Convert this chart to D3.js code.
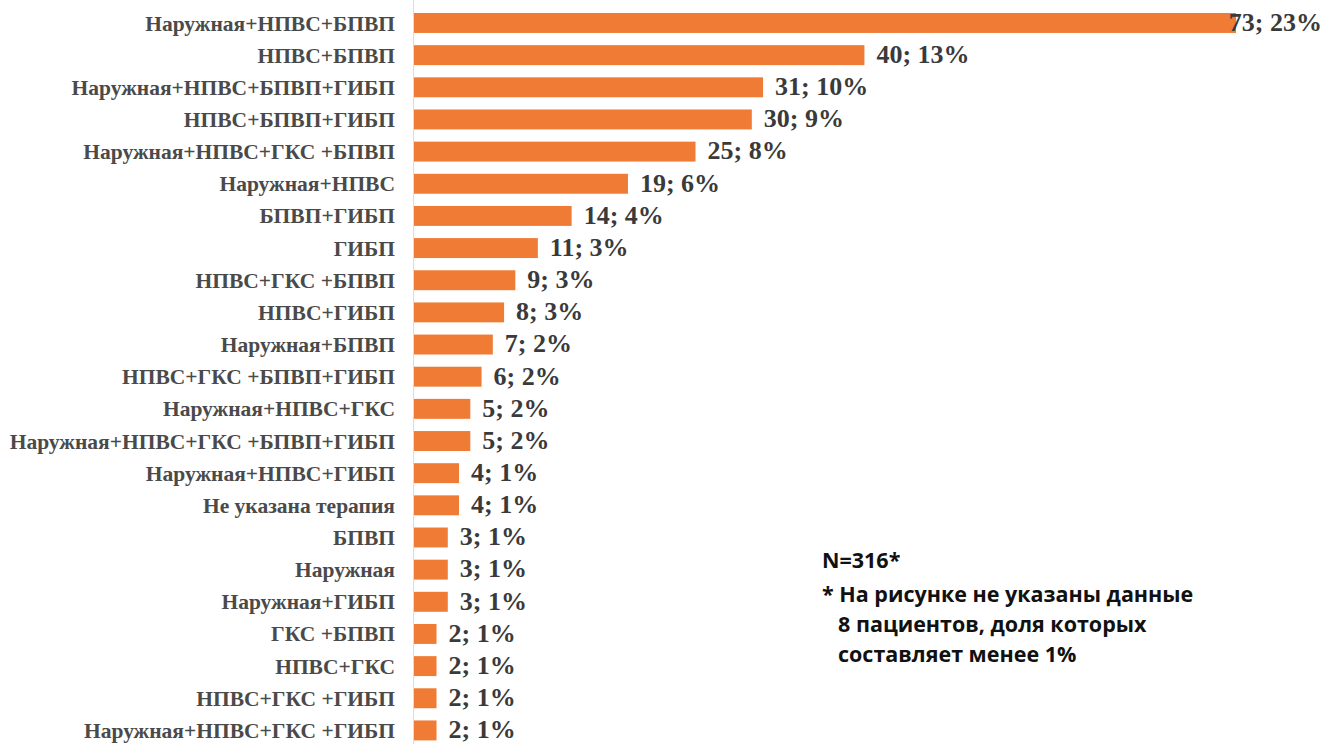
<!DOCTYPE html>
<html><head><meta charset="utf-8">
<script src="https://cdn.jsdelivr.net/npm/d3@7"></script>
<style>
html,body{margin:0;padding:0;background:#fff;}
svg{display:block;}
</style></head>
<body>
<svg id="chart" width="1336" height="744"></svg>
<script>
const categories = [
  "Наружная+НПВС+БПВП",
  "НПВС+БПВП",
  "Наружная+НПВС+БПВП+ГИБП",
  "НПВС+БПВП+ГИБП",
  "Наружная+НПВС+ГКС +БПВП",
  "Наружная+НПВС",
  "БПВП+ГИБП",
  "ГИБП",
  "НПВС+ГКС +БПВП",
  "НПВС+ГИБП",
  "Наружная+БПВП",
  "НПВС+ГКС +БПВП+ГИБП",
  "Наружная+НПВС+ГКС",
  "Наружная+НПВС+ГКС +БПВП+ГИБП",
  "Наружная+НПВС+ГИБП",
  "Не указана терапия",
  "БПВП",
  "Наружная",
  "Наружная+ГИБП",
  "ГКС +БПВП",
  "НПВС+ГКС",
  "НПВС+ГКС +ГИБП",
  "Наружная+НПВС+ГКС +ГИБП"
];
const counts = [73, 40, 31, 30, 25, 19, 14, 11, 9, 8, 7, 6, 5, 5, 4, 4, 3, 3, 3, 2, 2, 2, 2];
const percents = [23, 13, 10, 9, 8, 6, 4, 3, 3, 3, 2, 2, 2, 2, 1, 1, 1, 1, 1, 1, 1, 1, 1];
const noteLines = [
  "N=316*",
  "* На рисунке не указаны данные",
  "8 пациентов, доля которых",
  "составляет менее 1%"
];

const svg = d3.select("#chart");
const data = categories.map((c, i) => ({cat: c, n: counts[i], p: percents[i]}));

const x = d3.scaleLinear().domain([0, 73]).range([414, 1236]);
const y = d3.scaleBand().domain(categories).range([6.9, 746.5]).paddingInner(0.38).paddingOuter(0.19);

// axis line
svg.append("line")
  .attr("x1", 413.5).attr("x2", 413.5)
  .attr("y1", 0).attr("y2", 744)
  .attr("stroke", "#dcdcdc").attr("stroke-width", 1);

svg.append("g").selectAll("rect").data(data).join("rect")
  .attr("x", x(0))
  .attr("y", d => y(d.cat))
  .attr("width", d => x(d.n) - x(0))
  .attr("height", y.bandwidth())
  .attr("fill", "#f07b35");

svg.append("g").selectAll("text").data(data).join("text")
  .attr("x", 395)
  .attr("y", d => y(d.cat) + y.bandwidth() / 2)
  .attr("dy", "0.35em")
  .attr("text-anchor", "end")
  .attr("font-family", "'Liberation Serif', 'DejaVu Serif', serif")
  .attr("font-weight", "bold")
  .attr("font-size", 21.5)
  .attr("fill", "#4a4a4a")
  .text(d => d.cat);

const vl = svg.append("g").selectAll("text").data(data).join("text")
  .attr("x", d => x(d.n) + 12)
  .attr("y", d => y(d.cat) + y.bandwidth() / 2)
  .attr("dy", "0.3em")
  .attr("font-family", "'Liberation Serif', 'DejaVu Serif', serif")
  .attr("font-weight", "bold")
  .attr("font-size", 26)
  .attr("fill", "#3a3a3a")
  .text(d => d.n + "; " + d.p + "%");
vl.each(function() {
  const w = this.getComputedTextLength();
  const xx = +this.getAttribute("x");
  if (xx + w > 1322) this.setAttribute("x", 1322 - w);
});

const note = svg.append("text")
  .attr("font-family", "'Open Sans', 'Noto Sans', sans-serif")
  .attr("font-weight", "bold")
  .attr("font-size", 21.5)
  .attr("fill", "#111");
note.selectAll("tspan").data(noteLines).join("tspan")
  .attr("x", (d, i) => i >= 2 ? 838 : 822)
  .attr("y", (d, i) => i === 0 ? 568 : 572 + i * 30)
  .text(d => d);
</script>
</body></html>
